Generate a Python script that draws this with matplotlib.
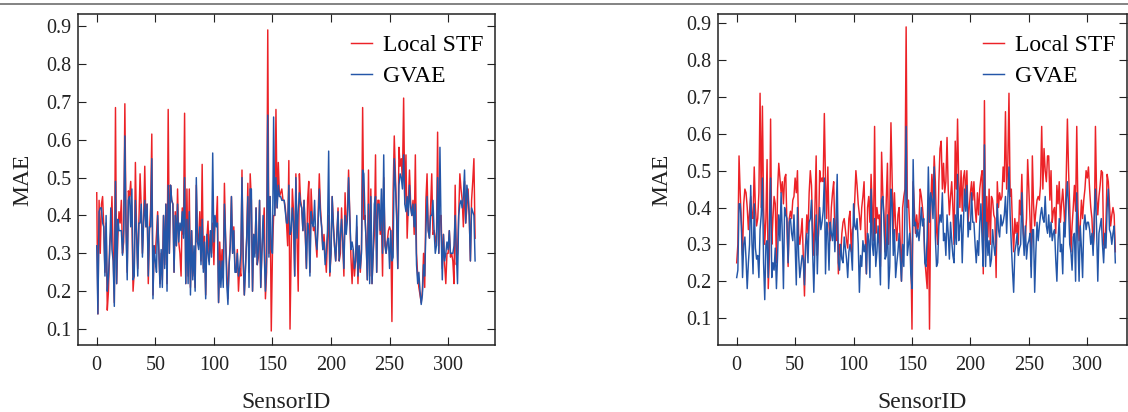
import numpy as np
import matplotlib
matplotlib.use("Agg")
import matplotlib.pyplot as plt
from matplotlib.lines import Line2D

# left panel (SensorID 0..)
left_stf = [
    0.46, 0.14, 0.44, 0.30, 0.43, 0.45, 0.37, 0.25, 0.38, 0.15,
    0.20, 0.32, 0.36, 0.45, 0.30, 0.17, 0.685, 0.22, 0.34, 0.41,
    0.38, 0.44, 0.30, 0.33, 0.695, 0.38, 0.25, 0.465, 0.45, 0.49,
    0.40, 0.20, 0.25, 0.54, 0.36, 0.26, 0.38, 0.51, 0.42, 0.30,
    0.39, 0.53, 0.37, 0.43, 0.22, 0.36, 0.42, 0.615, 0.19, 0.32,
    0.30, 0.35, 0.41, 0.31, 0.22, 0.30, 0.23, 0.40, 0.27, 0.43,
    0.22, 0.68, 0.30, 0.48, 0.44, 0.43, 0.25, 0.41, 0.32, 0.47,
    0.33, 0.30, 0.24, 0.42, 0.35, 0.67, 0.22, 0.47, 0.24, 0.47,
    0.21, 0.36, 0.24, 0.30, 0.21, 0.48, 0.33, 0.34, 0.41, 0.28,
    0.535, 0.26, 0.345, 0.19, 0.34, 0.385, 0.28, 0.35, 0.30, 0.38,
    0.27, 0.39, 0.38, 0.45, 0.17, 0.33, 0.25, 0.31, 0.25, 0.485,
    0.34, 0.26, 0.18, 0.27, 0.33, 0.45, 0.30, 0.37, 0.26, 0.25,
    0.31, 0.20, 0.26, 0.24, 0.52, 0.28, 0.19, 0.27, 0.34, 0.485,
    0.25, 0.51, 0.44, 0.20, 0.35, 0.30, 0.42, 0.27, 0.29, 0.44,
    0.21, 0.30, 0.36, 0.42, 0.18, 0.25, 0.89, 0.30, 0.45, 0.095,
    0.30, 0.40, 0.40, 0.68, 0.42, 0.54, 0.45, 0.46, 0.47, 0.44,
    0.44, 0.42, 0.38, 0.32, 0.545, 0.10, 0.31, 0.47, 0.41, 0.24,
    0.51, 0.34, 0.20, 0.51, 0.44, 0.42, 0.36, 0.44, 0.35, 0.26,
    0.44, 0.49, 0.25, 0.47, 0.40, 0.36, 0.37, 0.33, 0.29, 0.40,
    0.51, 0.42, 0.37, 0.31, 0.35, 0.30, 0.25, 0.34, 0.40, 0.24,
    0.30, 0.45, 0.38, 0.32, 0.28, 0.35, 0.42, 0.28, 0.30, 0.42,
    0.33, 0.24, 0.46, 0.37, 0.40, 0.52, 0.40, 0.29, 0.22, 0.31,
    0.24, 0.28, 0.37, 0.22, 0.32, 0.25, 0.31, 0.685, 0.39, 0.40,
    0.33, 0.23, 0.52, 0.24, 0.47, 0.22, 0.30, 0.35, 0.56, 0.25,
    0.44, 0.44, 0.35, 0.40, 0.24, 0.50, 0.34, 0.30, 0.33, 0.36,
    0.37, 0.36, 0.12, 0.46, 0.61, 0.50, 0.40, 0.26, 0.58, 0.53,
    0.55, 0.50, 0.71, 0.43, 0.56, 0.34, 0.43, 0.52, 0.43, 0.40,
    0.44, 0.35, 0.56, 0.30, 0.24, 0.21, 0.19, 0.17, 0.20, 0.30,
    0.21, 0.44, 0.51, 0.36, 0.34, 0.42, 0.51, 0.35, 0.36, 0.34,
    0.32, 0.62, 0.30, 0.40, 0.40, 0.26, 0.35, 0.27, 0.22, 0.30,
    0.30, 0.36, 0.29, 0.30, 0.28, 0.22, 0.48, 0.27, 0.30, 0.40,
    0.51, 0.47, 0.44, 0.37, 0.49, 0.38, 0.42, 0.47, 0.40, 0.28,
    0.44, 0.49, 0.55, 0.34,
]
left_gvae = [
    0.32, 0.14, 0.41, 0.42, 0.42, 0.38, 0.37, 0.24, 0.40, 0.20,
    0.24, 0.30, 0.42, 0.31, 0.28, 0.16, 0.49, 0.22, 0.39, 0.36,
    0.36, 0.36, 0.295, 0.36, 0.61, 0.36, 0.23, 0.44, 0.45, 0.37,
    0.47, 0.23, 0.24, 0.44, 0.35, 0.24, 0.38, 0.38, 0.43, 0.29,
    0.38, 0.44, 0.37, 0.43, 0.24, 0.37, 0.37, 0.55, 0.18, 0.32,
    0.28, 0.25, 0.40, 0.31, 0.21, 0.31, 0.21, 0.40, 0.26, 0.43,
    0.20, 0.48, 0.30, 0.48, 0.44, 0.43, 0.25, 0.40, 0.32, 0.43,
    0.33, 0.38, 0.36, 0.41, 0.34, 0.50, 0.22, 0.39, 0.22, 0.41,
    0.19, 0.36, 0.23, 0.32, 0.20, 0.50, 0.33, 0.31, 0.37, 0.27,
    0.39, 0.25, 0.33, 0.18, 0.35, 0.30, 0.27, 0.36, 0.29, 0.565,
    0.33, 0.40, 0.37, 0.38, 0.17, 0.28, 0.21, 0.28, 0.21, 0.43,
    0.34, 0.22, 0.165, 0.27, 0.32, 0.45, 0.30, 0.36, 0.25, 0.25,
    0.30, 0.24, 0.26, 0.30, 0.50, 0.29, 0.19, 0.26, 0.34, 0.45,
    0.21, 0.47, 0.47, 0.20, 0.35, 0.29, 0.42, 0.27, 0.31, 0.44,
    0.21, 0.31, 0.40, 0.30, 0.20, 0.28, 0.665, 0.29, 0.45, 0.31,
    0.30, 0.66, 0.40, 0.50, 0.42, 0.48, 0.45, 0.45, 0.44, 0.44,
    0.44, 0.41, 0.38, 0.38, 0.48, 0.35, 0.36, 0.42, 0.38, 0.24,
    0.50, 0.34, 0.41, 0.46, 0.43, 0.42, 0.36, 0.44, 0.36, 0.26,
    0.38, 0.36, 0.24, 0.41, 0.38, 0.37, 0.44, 0.34, 0.31, 0.38,
    0.47, 0.40, 0.37, 0.31, 0.33, 0.27, 0.30, 0.36, 0.57, 0.25,
    0.30, 0.45, 0.37, 0.32, 0.28, 0.35, 0.41, 0.28, 0.35, 0.39,
    0.33, 0.26, 0.40, 0.35, 0.39, 0.50, 0.40, 0.31, 0.33, 0.31,
    0.26, 0.28, 0.40, 0.24, 0.32, 0.26, 0.30, 0.52, 0.51, 0.40,
    0.33, 0.23, 0.43, 0.22, 0.45, 0.22, 0.30, 0.43, 0.45, 0.25,
    0.43, 0.43, 0.36, 0.47, 0.30, 0.56, 0.32, 0.30, 0.33, 0.34,
    0.26, 0.36, 0.28, 0.29, 0.55, 0.48, 0.40, 0.26, 0.48, 0.51,
    0.50, 0.47, 0.56, 0.43, 0.41, 0.45, 0.40, 0.48, 0.42, 0.40,
    0.43, 0.37, 0.43, 0.27, 0.22, 0.25, 0.20, 0.165, 0.19, 0.27,
    0.24, 0.36, 0.45, 0.36, 0.34, 0.40, 0.40, 0.44, 0.36, 0.30,
    0.32, 0.50, 0.30, 0.58, 0.36, 0.23, 0.35, 0.28, 0.30, 0.33,
    0.31, 0.36, 0.30, 0.30, 0.30, 0.32, 0.40, 0.30, 0.22, 0.40,
    0.43, 0.44, 0.42, 0.45, 0.52, 0.38, 0.48, 0.45, 0.40, 0.28,
    0.42, 0.41, 0.40, 0.28,
]

# right panel
right_stf = [
    0.25, 0.30, 0.54, 0.44, 0.36, 0.27, 0.41, 0.45, 0.44, 0.40,
    0.34, 0.39, 0.43, 0.38, 0.37, 0.51, 0.40, 0.35, 0.37, 0.44,
    0.71, 0.40, 0.675, 0.40, 0.30, 0.37, 0.53, 0.18, 0.27, 0.64,
    0.30, 0.37, 0.43, 0.41, 0.25, 0.45, 0.52, 0.48, 0.44, 0.47,
    0.41, 0.48, 0.49, 0.35, 0.24, 0.37, 0.39, 0.37, 0.42, 0.43,
    0.48, 0.44, 0.50, 0.33, 0.30, 0.33, 0.37, 0.26, 0.16, 0.30,
    0.38, 0.33, 0.44, 0.50, 0.46, 0.34, 0.27, 0.40, 0.54, 0.27,
    0.33, 0.50, 0.47, 0.48, 0.47, 0.655, 0.47, 0.37, 0.51, 0.35,
    0.31, 0.40, 0.44, 0.47, 0.33, 0.31, 0.40, 0.22, 0.30, 0.27,
    0.33, 0.36, 0.37, 0.34, 0.31, 0.29, 0.37, 0.39, 0.28, 0.34,
    0.35, 0.42, 0.50, 0.46, 0.41, 0.38, 0.34, 0.40, 0.43, 0.47,
    0.33, 0.22, 0.40, 0.43, 0.36, 0.49, 0.40, 0.31, 0.62, 0.33,
    0.40, 0.37, 0.38, 0.24, 0.55, 0.44, 0.38, 0.28, 0.42, 0.52,
    0.30, 0.40, 0.63, 0.48, 0.33, 0.44, 0.35, 0.31, 0.38, 0.40,
    0.30, 0.20, 0.40, 0.43, 0.45, 0.89, 0.40, 0.42, 0.35, 0.30,
    0.07, 0.47, 0.40, 0.33, 0.38, 0.34, 0.36, 0.45, 0.43, 0.40,
    0.36, 0.26, 0.22, 0.18, 0.42, 0.07, 0.40, 0.49, 0.42, 0.54,
    0.47, 0.34, 0.30, 0.47, 0.56, 0.58, 0.45, 0.52, 0.44, 0.47,
    0.59, 0.45, 0.38, 0.43, 0.47, 0.40, 0.30, 0.58, 0.45, 0.64,
    0.47, 0.40, 0.50, 0.39, 0.48, 0.50, 0.43, 0.50, 0.36, 0.40,
    0.44, 0.47, 0.42, 0.47, 0.40, 0.36, 0.44, 0.38, 0.45, 0.48,
    0.50, 0.22, 0.69, 0.31, 0.43, 0.32, 0.45, 0.30, 0.43, 0.42,
    0.38, 0.37, 0.21, 0.47, 0.40, 0.44, 0.42, 0.43, 0.51, 0.47,
    0.66, 0.45, 0.52, 0.71, 0.43, 0.45, 0.35, 0.28, 0.37, 0.33,
    0.36, 0.30, 0.42, 0.38, 0.49, 0.36, 0.30, 0.32, 0.37, 0.53,
    0.45, 0.37, 0.24, 0.54, 0.41, 0.35, 0.39, 0.42, 0.43, 0.42,
    0.46, 0.62, 0.45, 0.56, 0.50, 0.47, 0.54, 0.54, 0.42, 0.50,
    0.36, 0.39, 0.40, 0.33, 0.46, 0.41, 0.47, 0.36, 0.41, 0.45,
    0.40, 0.33, 0.48, 0.64, 0.50, 0.40, 0.28, 0.35, 0.40, 0.46,
    0.39, 0.62, 0.40, 0.31, 0.35, 0.42, 0.37, 0.42, 0.45, 0.50,
    0.48, 0.51, 0.45, 0.40, 0.37, 0.29, 0.33, 0.62, 0.43, 0.38,
    0.43, 0.46, 0.50, 0.495, 0.30, 0.29, 0.36, 0.49, 0.47, 0.41,
    0.35, 0.38, 0.40, 0.38, 0.28,
]
right_gvae = [
    0.21, 0.23, 0.41, 0.41, 0.35, 0.21, 0.30, 0.32, 0.26, 0.18,
    0.25, 0.30, 0.46, 0.31, 0.22, 0.41, 0.29, 0.26, 0.27, 0.21,
    0.34, 0.38, 0.48, 0.25, 0.15, 0.30, 0.31, 0.21, 0.36, 0.48,
    0.21, 0.25, 0.23, 0.29, 0.18, 0.27, 0.38, 0.31, 0.44, 0.33,
    0.18, 0.40, 0.38, 0.37, 0.25, 0.36, 0.37, 0.33, 0.31, 0.38,
    0.30, 0.19, 0.40, 0.27, 0.21, 0.24, 0.27, 0.26, 0.19, 0.30,
    0.33, 0.25, 0.36, 0.37, 0.42, 0.28, 0.17, 0.30, 0.38, 0.22,
    0.34, 0.40, 0.34, 0.36, 0.39, 0.48, 0.22, 0.36, 0.33, 0.23,
    0.36, 0.33, 0.31, 0.37, 0.28, 0.37, 0.49, 0.25, 0.23, 0.30,
    0.26, 0.25, 0.32, 0.29, 0.26, 0.21, 0.28, 0.30, 0.28, 0.23,
    0.41, 0.35, 0.34, 0.37, 0.30, 0.17, 0.27, 0.24, 0.31, 0.28,
    0.30, 0.22, 0.33, 0.31, 0.21, 0.45, 0.30, 0.27, 0.37, 0.24,
    0.28, 0.35, 0.28, 0.19, 0.42, 0.43, 0.37, 0.26, 0.27, 0.38,
    0.18, 0.24, 0.45, 0.41, 0.27, 0.34, 0.21, 0.25, 0.28, 0.33,
    0.26, 0.20, 0.30, 0.24, 0.40, 0.62, 0.27, 0.30, 0.33, 0.22,
    0.18, 0.53, 0.35, 0.36, 0.32, 0.34, 0.31, 0.35, 0.40, 0.35,
    0.37, 0.25, 0.24, 0.32, 0.51, 0.36, 0.44, 0.42, 0.37, 0.51,
    0.32, 0.24, 0.25, 0.35, 0.38, 0.36, 0.44, 0.31, 0.33, 0.27,
    0.38, 0.33, 0.26, 0.36, 0.31, 0.27, 0.25, 0.38, 0.30, 0.49,
    0.31, 0.35, 0.38, 0.25, 0.36, 0.45, 0.39, 0.46, 0.32, 0.36,
    0.34, 0.44, 0.36, 0.36, 0.30, 0.25, 0.31, 0.27, 0.36, 0.41,
    0.31, 0.24, 0.57, 0.24, 0.36, 0.27, 0.31, 0.24, 0.26, 0.34,
    0.30, 0.27, 0.31, 0.41, 0.34, 0.32, 0.38, 0.35, 0.36, 0.38,
    0.43, 0.33, 0.42, 0.51, 0.38, 0.30, 0.23, 0.17, 0.28, 0.30,
    0.33, 0.27, 0.29, 0.30, 0.44, 0.33, 0.27, 0.35, 0.26, 0.30,
    0.31, 0.33, 0.21, 0.34, 0.34, 0.17, 0.28, 0.36, 0.31, 0.35,
    0.38, 0.40, 0.37, 0.36, 0.43, 0.35, 0.33, 0.38, 0.32, 0.36,
    0.31, 0.33, 0.34, 0.26, 0.20, 0.31, 0.37, 0.28, 0.30, 0.22,
    0.36, 0.32, 0.42, 0.47, 0.40, 0.30, 0.28, 0.23, 0.32, 0.33,
    0.20, 0.44, 0.31, 0.20, 0.35, 0.29, 0.21, 0.35, 0.38, 0.34,
    0.36, 0.36, 0.34, 0.30, 0.33, 0.27, 0.38, 0.45, 0.34, 0.20,
    0.33, 0.35, 0.37, 0.30, 0.25, 0.33, 0.29, 0.40, 0.45, 0.34,
    0.33, 0.30, 0.33, 0.35, 0.25,
]

tick_x = [0, 50, 100, 150, 200, 250, 300]
tick_y = [0.1, 0.2, 0.3, 0.4, 0.5, 0.6, 0.7, 0.8, 0.9]

RED = "#ec2227"
BLUE = "#2456a8"

plt.rcParams["font.family"] = ["Liberation Serif", "DejaVu Serif"]

W, H = 1128, 412
fig = plt.figure(figsize=(W / 100, H / 100), dpi=100)

# page rule along the top
fig.add_artist(Line2D([0, 1], [1 - 4 / H, 1 - 4 / H], color="#7a7a7a", lw=1.3))


def panel(left_px, right_px, stf, gvae, xlim, ylim, ylab_px):
    top_px, bot_px = 14, 345
    w = right_px - left_px
    h = bot_px - top_px
    ax = fig.add_axes([left_px / W, 1 - bot_px / H, w / W, h / H])
    ax.plot(np.arange(len(stf)), stf, color=RED, lw=1.05, label="Local STF")
    ax.plot(np.arange(len(gvae)), gvae, color=BLUE, lw=1.05, label="GVAE")
    ax.set_xlim(*xlim)
    ax.set_ylim(*ylim)
    ax.set_xticks(tick_x)
    ax.set_yticks(tick_y)
    ax.tick_params(direction="in", top=True, right=True, length=6, width=0.8,
                   labelsize=14.5, colors="#222222")
    ax.tick_params(axis="x", pad=8)
    ax.tick_params(axis="y", pad=5)
    for s in ax.spines.values():
        s.set_linewidth(1.1)
        s.set_color("#222222")
    ax.set_xlabel("SensorID", fontsize=17, color="#222222")
    ax.set_ylabel("MAE", fontsize=17, color="#222222")
    ax.xaxis.set_label_coords(0.5, -47 / h)
    ax.yaxis.set_label_coords(-ylab_px / w, 0.5)
    ax.legend(loc="upper right", bbox_to_anchor=(1, 1 - 9 / h), frameon=False,
              fontsize=17, handlelength=0.9, handletextpad=0.45,
              labelspacing=0.38, borderaxespad=0.3, borderpad=0.2)
    return ax


panel(78, 495, left_stf, left_gvae, (-16, 340), (0.058, 0.932), 45)
panel(718, 1127, right_stf, right_gvae, (-16, 334), (0.027, 0.925), 46)

fig.savefig("out.png", dpi=100)
